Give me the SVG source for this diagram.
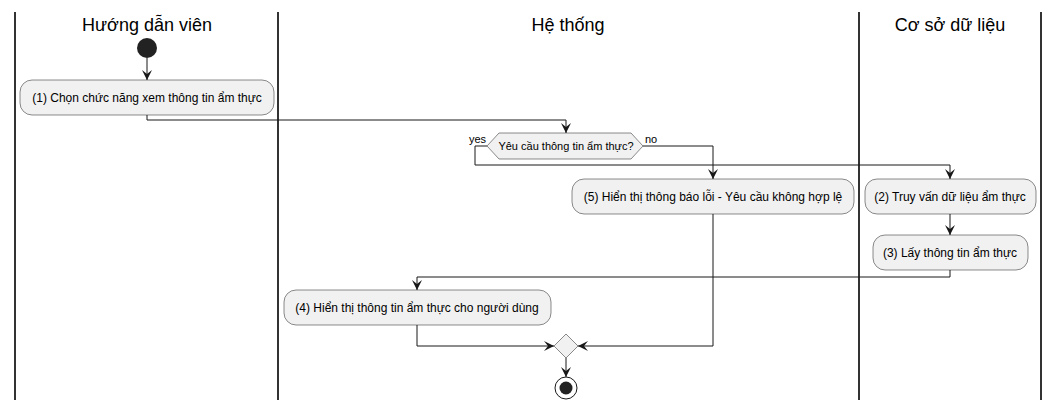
<svg xmlns="http://www.w3.org/2000/svg" width="1060" height="412" viewBox="0 0 1060 412">
<style>
.lane{stroke:#333;stroke-width:2;fill:none}
.hdr{font-family:"Liberation Sans",Arial,sans-serif;font-size:18px;fill:#000;text-anchor:middle}
.act{fill:#f1f1f1;stroke:#181818;stroke-width:0.5}
.t{font-family:"Liberation Sans",Arial,sans-serif;font-size:12px;fill:#000;text-anchor:middle}
.s{font-family:"Liberation Sans",Arial,sans-serif;font-size:11px;fill:#000}
.c{stroke:#181818;stroke-width:1;fill:none;marker-end:url(#ah)}
.cn{stroke:#181818;stroke-width:1;fill:none}
</style>
<defs>
<marker id="ah" markerUnits="userSpaceOnUse" markerWidth="12" markerHeight="10" refX="10" refY="5" orient="auto">
<path d="M0,0 L10,5 L0,10 L4,5 Z" fill="#181818"/>
</marker>
</defs>
<rect width="1060" height="412" fill="#fff"/>
<g id="lanes">
<line class="lane" x1="15" y1="12" x2="15" y2="400"/>
<line class="lane" x1="278" y1="12" x2="278" y2="400"/>
<line class="lane" x1="859" y1="12" x2="859" y2="400"/>
<line class="lane" x1="1041" y1="12" x2="1041" y2="400"/>
<text class="hdr" x="147" y="31">Hướng dẫn viên</text>
<text class="hdr" x="568" y="31">Hệ thống</text>
<text class="hdr" x="950" y="31">Cơ sở dữ liệu</text>
</g>
<g id="connectors">
<path class="c" d="M147,58 V80"/>
<path class="c" d="M147,115 V120 H566 V133"/>
<path class="c" d="M487,146 H475 V165 H950 V179"/>
<path class="c" d="M643,146 H713 V179"/>
<path class="c" d="M950,214 V235"/>
<path class="c" d="M950,270 V277 H417 V290"/>
<path class="c" d="M417,325 V346 H554"/>
<path class="c" d="M713,214 V346 H578"/>
<path class="c" d="M566,358 V377"/>
</g>
<g id="start">
<circle cx="147" cy="48" r="10" fill="#222"/>
</g>
<g id="n1">
<rect class="act" x="20" y="80" width="254" height="35" rx="12"/>
<text class="t" x="147" y="102">(1) Chọn chức năng xem thông tin ẩm thực</text>
</g>
<g id="decision">
<polygon class="act" points="487,146 499,133 631,133 643,146 631,159 499,159"/>
<text class="s" x="566" y="150" text-anchor="middle">Yêu cầu thông tin ẩm thực?</text>
<text class="s" x="469" y="143">yes</text>
<text class="s" x="645" y="143">no</text>
</g>
<g id="n5">
<rect class="act" x="572" y="179" width="282" height="35" rx="12"/>
<text class="t" x="713" y="201">(5) Hiển thị thông báo lỗi - Yêu cầu không hợp lệ</text>
</g>
<g id="n2">
<rect class="act" x="865" y="179" width="171" height="35" rx="12"/>
<text class="t" x="950" y="201">(2) Truy vấn dữ liệu ẩm thực</text>
</g>
<g id="n3">
<rect class="act" x="873" y="235" width="155" height="35" rx="12"/>
<text class="t" x="950" y="257">(3) Lấy thông tin ẩm thực</text>
</g>
<g id="n4">
<rect class="act" x="284" y="290" width="267" height="35" rx="12"/>
<text class="t" x="417" y="312">(4) Hiển thị thông tin ẩm thực cho người dùng</text>
</g>
<g id="merge">
<polygon class="act" points="566,334 578,346 566,358 554,346"/>
</g>
<g id="end">
<circle cx="566" cy="388" r="11" fill="#fff" stroke="#181818" stroke-width="1"/>
<circle cx="566" cy="388" r="6.5" fill="#222"/>
</g>
</svg>
